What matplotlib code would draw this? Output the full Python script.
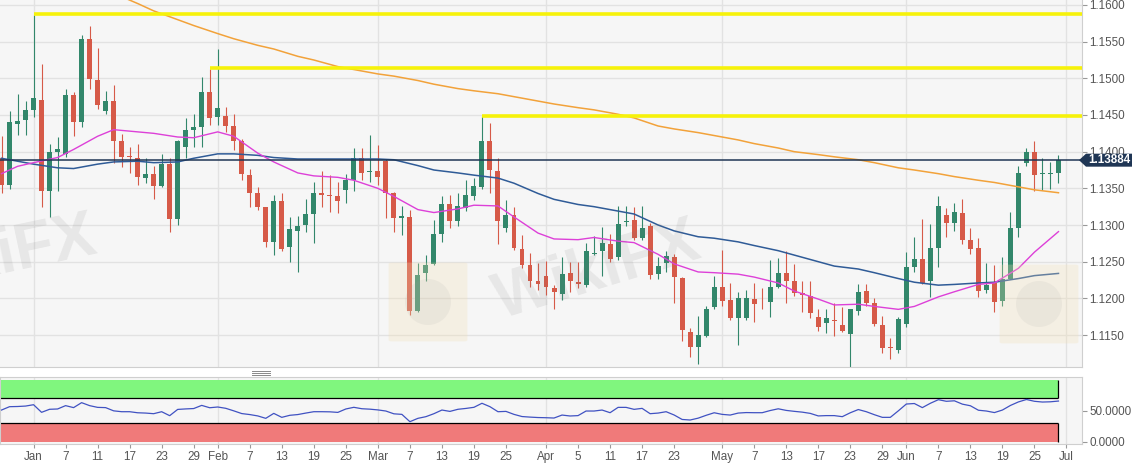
import matplotlib
matplotlib.use("Agg")
import matplotlib.pyplot as plt
from matplotlib.patches import Polygon, FancyBboxPatch, Ellipse
from matplotlib.lines import Line2D
import numpy as np
import pandas as pd

plt.rcParams['font.family'] = ['Liberation Sans', 'DejaVu Sans']

# daily EUR/USD bars, 26 Dec 2018 .. 28 Jun 2019
dates = pd.bdate_range('2018-12-26', '2019-06-28')

opens = [1.1392, 1.1355, 1.1438, 1.1443, 1.1457, 1.1471, 1.1346, 1.1399, 1.1397, 1.1477,
         1.1441, 1.1554, 1.1498, 1.1455, 1.1469, 1.1414, 1.1394, 1.1391, 1.1364, 1.1369,
         1.1353, 1.1383, 1.1308, 1.1406, 1.1429, 1.1433, 1.1481, 1.1447, 1.1449, 1.1435,
         1.1414, 1.1368, 1.1343, 1.1324, 1.1277, 1.1333, 1.1270, 1.1292, 1.1300, 1.1315,
         1.1343, 1.1340, 1.1339, 1.1348, 1.1362, 1.1392, 1.1372, 1.1374, 1.1387, 1.1343,
         1.1309, 1.1311, 1.1183, 1.1235, 1.1247, 1.1288, 1.1329, 1.1305, 1.1323, 1.1339,
         1.1352, 1.1414, 1.1374, 1.1296, 1.1314, 1.1267, 1.1246, 1.1224, 1.1231, 1.1214,
         1.1206, 1.1235, 1.1222, 1.1218, 1.1261, 1.1265, 1.1274, 1.1256, 1.1304, 1.1307,
         1.1282, 1.1299, 1.1233, 1.1248, 1.1257, 1.1228, 1.1154, 1.1133, 1.1148, 1.1188,
         1.1215, 1.1198, 1.1173, 1.1173, 1.1199, 1.1194, 1.1195, 1.1215, 1.1235, 1.1224,
         1.1207, 1.1203, 1.1175, 1.1167, 1.1171, 1.1163, 1.1152, 1.1183, 1.1210, 1.1193,
         1.1163, 1.1134, 1.1130, 1.1165, 1.1243, 1.1253, 1.1223, 1.1268, 1.1314, 1.1303,
         1.1317, 1.1279, 1.1268, 1.1212, 1.1221, 1.1196, 1.1227, 1.1296, 1.1385, 1.1399,
         1.1370, 1.1369, 1.1371]
highs = [1.1421, 1.1455, 1.1478, 1.1469, 1.1586, 1.1519, 1.1411, 1.1420, 1.1485, 1.1481,
         1.1559, 1.1571, 1.1541, 1.1483, 1.1491, 1.1424, 1.1407, 1.1411, 1.1392, 1.1381,
         1.1397, 1.1391, 1.1416, 1.1446, 1.1452, 1.1502, 1.1513, 1.1540, 1.1461, 1.1452,
         1.1417, 1.1377, 1.1352, 1.1325, 1.1341, 1.1344, 1.1311, 1.1312, 1.1336, 1.1359,
         1.1373, 1.1368, 1.1359, 1.1369, 1.1405, 1.1405, 1.1423, 1.1409, 1.1390, 1.1345,
         1.1326, 1.1321, 1.1248, 1.1259, 1.1307, 1.1340, 1.1341, 1.1344, 1.1361, 1.1364,
         1.1448, 1.1439, 1.1391, 1.1334, 1.1325, 1.1286, 1.1262, 1.1248, 1.1251, 1.1218,
         1.1256, 1.1250, 1.1250, 1.1276, 1.1285, 1.1297, 1.1288, 1.1326, 1.1326, 1.1324,
         1.1326, 1.1303, 1.1257, 1.1265, 1.1261, 1.1229, 1.1159, 1.1176, 1.1189, 1.1230,
         1.1266, 1.1221, 1.1208, 1.1211, 1.1221, 1.1214, 1.1252, 1.1255, 1.1265, 1.1247,
         1.1224, 1.1224, 1.1186, 1.1185, 1.1193, 1.1188, 1.1186, 1.1220, 1.1220, 1.1200,
         1.1176, 1.1146, 1.1174, 1.1263, 1.1283, 1.1308, 1.1301, 1.1340, 1.1323, 1.1330,
         1.1335, 1.1296, 1.1282, 1.1248, 1.1246, 1.1256, 1.1318, 1.1380, 1.1405, 1.1415,
         1.1392, 1.1386, 1.1395]
lows = [1.1344, 1.1349, 1.1423, 1.1423, 1.1447, 1.1325, 1.1311, 1.1346, 1.1393, 1.1421,
        1.1434, 1.1485, 1.1458, 1.1451, 1.1384, 1.1379, 1.1371, 1.1355, 1.1357, 1.1336,
        1.1352, 1.1291, 1.1300, 1.1391, 1.1407, 1.1407, 1.1436, 1.1437, 1.1427, 1.1402,
        1.1362, 1.1324, 1.1321, 1.1270, 1.1259, 1.1265, 1.1250, 1.1236, 1.1290, 1.1276,
        1.1325, 1.1318, 1.1317, 1.1330, 1.1346, 1.1361, 1.1359, 1.1355, 1.1309, 1.1291,
        1.1286, 1.1177, 1.1182, 1.1223, 1.1245, 1.1277, 1.1296, 1.1299, 1.1319, 1.1334,
        1.1349, 1.1343, 1.1274, 1.1290, 1.1266, 1.1241, 1.1215, 1.1211, 1.1205, 1.1186,
        1.1198, 1.1209, 1.1214, 1.1216, 1.1259, 1.1230, 1.1250, 1.1252, 1.1299, 1.1280,
        1.1280, 1.1227, 1.1226, 1.1236, 1.1193, 1.1142, 1.1120, 1.1111, 1.1147, 1.1186,
        1.1189, 1.1171, 1.1136, 1.1171, 1.1168, 1.1186, 1.1175, 1.1214, 1.1194, 1.1203,
        1.1181, 1.1173, 1.1156, 1.1153, 1.1148, 1.1154, 1.1107, 1.1177, 1.1190, 1.1162,
        1.1126, 1.1117, 1.1126, 1.1161, 1.1236, 1.1220, 1.1202, 1.1243, 1.1283, 1.1292,
        1.1274, 1.1261, 1.1202, 1.1207, 1.1182, 1.1189, 1.1226, 1.1283, 1.1380, 1.1346,
        1.1348, 1.1349, 1.1357]
closes = [1.1355, 1.1440, 1.1442, 1.1457, 1.1473, 1.1346, 1.1399, 1.1403, 1.1477, 1.1441,
          1.1554, 1.1499, 1.1464, 1.1469, 1.1414, 1.1393, 1.1393, 1.1366, 1.1369, 1.1353,
          1.1383, 1.1308, 1.1415, 1.1429, 1.1433, 1.1481, 1.1446, 1.1459, 1.1435, 1.1414,
          1.1370, 1.1343, 1.1324, 1.1277, 1.1333, 1.1267, 1.1294, 1.1299, 1.1315, 1.1343,
          1.1341, 1.1339, 1.1333, 1.1361, 1.1392, 1.1371, 1.1374, 1.1365, 1.1343, 1.1309,
          1.1312, 1.1183, 1.1232, 1.1245, 1.1288, 1.1329, 1.1305, 1.1326, 1.1341, 1.1353,
          1.1415, 1.1375, 1.1306, 1.1314, 1.1268, 1.1245, 1.1224, 1.1220, 1.1215, 1.1209,
          1.1233, 1.1224, 1.1219, 1.1265, 1.1262, 1.1276, 1.1254, 1.1301, 1.1305, 1.1282,
          1.1296, 1.1232, 1.1244, 1.1258, 1.1229, 1.1157, 1.1134, 1.1150, 1.1186, 1.1215,
          1.1196, 1.1173, 1.1201, 1.1201, 1.1192, 1.1193, 1.1216, 1.1235, 1.1223, 1.1207,
          1.1205, 1.1180, 1.1161, 1.1173, 1.1169, 1.1156, 1.1185, 1.1208, 1.1194, 1.1165,
          1.1132, 1.1132, 1.1172, 1.1243, 1.1253, 1.1221, 1.1268, 1.1326, 1.1303, 1.1318,
          1.1279, 1.1267, 1.1210, 1.1218, 1.1195, 1.1226, 1.1296, 1.1371, 1.1399, 1.1368,
          1.1371, 1.1370, 1.1388]

# moving averages, read twice a week
ma_dates = ['2018-12-26', '2018-12-28', '2019-01-01', '2019-01-04', '2019-01-08', '2019-01-11',
            '2019-01-15', '2019-01-18', '2019-01-22', '2019-01-25', '2019-01-29', '2019-02-01',
            '2019-02-05', '2019-02-08', '2019-02-12', '2019-02-15', '2019-02-19', '2019-02-22',
            '2019-02-26', '2019-03-01', '2019-03-05', '2019-03-08', '2019-03-12', '2019-03-15',
            '2019-03-19', '2019-03-22', '2019-03-26', '2019-03-29', '2019-04-02', '2019-04-05',
            '2019-04-09', '2019-04-12', '2019-04-16', '2019-04-19', '2019-04-23', '2019-04-26',
            '2019-04-30', '2019-05-03', '2019-05-07', '2019-05-10', '2019-05-14', '2019-05-17',
            '2019-05-21', '2019-05-24', '2019-05-28', '2019-05-31', '2019-06-04', '2019-06-07',
            '2019-06-11', '2019-06-14', '2019-06-18', '2019-06-21', '2019-06-25', '2019-06-28']
ma_fast = [1.1370, 1.1380, 1.1385, 1.1392, 1.1403, 1.1421, 1.1430, 1.1427, 1.1425, 1.1420,
           1.1419, 1.1427, 1.1421, 1.1398, 1.1386, 1.1371, 1.1367, 1.1365, 1.1361, 1.1350,
           1.1339, 1.1321, 1.1317, 1.1322, 1.1327, 1.1326, 1.1311, 1.1289, 1.1281, 1.1280,
           1.1283, 1.1278, 1.1276, 1.1260, 1.1247, 1.1236, 1.1235, 1.1233, 1.1229, 1.1221,
           1.1210, 1.1199, 1.1191, 1.1192, 1.1189, 1.1185, 1.1189, 1.1202, 1.1209, 1.1219,
           1.1221, 1.1241, 1.1263, 1.1291]
ma_mid = [1.1391, 1.1387, 1.1383, 1.1378, 1.1377, 1.1383, 1.1386, 1.1387, 1.1385, 1.1386,
          1.1391, 1.1397, 1.1397, 1.1395, 1.1392, 1.1390, 1.1390, 1.1390, 1.1390, 1.1390,
          1.1389, 1.1381, 1.1375, 1.1371, 1.1368, 1.1364, 1.1357, 1.1343, 1.1335, 1.1328,
          1.1325, 1.1319, 1.1315, 1.1300, 1.1292, 1.1284, 1.1282, 1.1277, 1.1272, 1.1265,
          1.1259, 1.1250, 1.1244, 1.1240, 1.1235, 1.1227, 1.1222, 1.1218, 1.1219, 1.1221,
          1.1222, 1.1227, 1.1231, 1.1234]
ma_slow = [None, None, None, None, None, 1.1625,
           1.1616, 1.1602, 1.1592, 1.1580, 1.1572, 1.1561, 1.1554, 1.1545, 1.1540, 1.1530,
           1.1525, 1.1516, 1.1512, 1.1506, 1.1503, 1.1497, 1.1492, 1.1486, 1.1483, 1.1479,
           1.1475, 1.1469, 1.1465, 1.1460, 1.1457, 1.1451, 1.1446, 1.1435, 1.1431, 1.1426,
           1.1422, 1.1416, 1.1411, 1.1405, 1.1400, 1.1396, 1.1393, 1.1389, 1.1385, 1.1378,
           1.1375, 1.1370, 1.1366, 1.1361, 1.1358, 1.1352, 1.1348, 1.1344]

# RSI, one value per bar
rsi = [51.1, 56.5, 56.8, 57.5, 59.7, 47.4, 52.3, 52.8, 58.2, 55.0,
       63.0, 58.2, 55.4, 55.0, 49.8, 48.4, 48.4, 46.7, 46.2, 45.2,
       48.4, 42.0, 52.1, 52.9, 53.5, 58.6, 54.8, 56.0, 53.9, 49.8,
       45.4, 43.8, 41.6, 37.7, 45.7, 39.3, 42.6, 43.8, 46.2, 48.4,
       48.4, 48.2, 47.3, 52.8, 55.5, 53.2, 52.5, 51.3, 49.5, 45.0,
       44.1, 32.3, 37.7, 40.4, 45.2, 51.1, 48.9, 52.3, 53.7, 55.5,
       62.0, 56.5, 48.4, 48.9, 44.1, 40.6, 39.7, 39.0, 38.7, 38.2,
       43.0, 41.5, 42.1, 49.5, 49.5, 51.1, 46.8, 55.4, 55.4, 52.2,
       53.8, 45.2, 46.2, 48.4, 43.1, 35.9, 35.0, 38.0, 42.6, 46.7,
       44.1, 43.0, 46.2, 47.0, 46.8, 46.8, 50.3, 53.1, 50.5, 49.0,
       47.7, 45.7, 41.6, 42.1, 42.1, 40.4, 46.7, 51.9, 48.4, 43.6,
       39.3, 39.3, 49.8, 60.8, 61.6, 55.0, 62.0, 67.8, 65.2, 66.0,
       60.6, 58.0, 50.8, 49.5, 47.0, 51.1, 58.5, 64.2, 68.1, 65.2,
       64.0, 64.4, 65.6]

res_levels = [1.1588, 1.1514, 1.1448]
res_start = ['2019-01-01', '2019-01-31', '2019-03-20']
last_price = 1.13884

tick_dates = ['2019-01-01', '2019-01-07', '2019-01-11', '2019-01-17', '2019-01-23', '2019-01-29',
              '2019-02-01', '2019-02-07', '2019-02-13', '2019-02-19', '2019-02-25',
              '2019-03-01', '2019-03-07', '2019-03-13', '2019-03-19', '2019-03-25',
              '2019-04-01', '2019-04-05', '2019-04-11', '2019-04-17', '2019-04-23',
              '2019-05-01', '2019-05-07', '2019-05-13', '2019-05-17', '2019-05-23', '2019-05-29',
              '2019-06-03', '2019-06-07', '2019-06-13', '2019-06-19', '2019-06-25', '2019-07-01']
tick_labels = ['Jan', '7', '11', '17', '23', '29', 'Feb', '7', '13', '19', '25',
               'Mar', '7', '13', '19', '25', 'Apr', '5', '11', '17', '23',
               'May', '7', '13', '17', '23', '29', 'Jun', '7', '13', '19', '25', 'Jul']

GREEN = '#32876b'
RED = '#d65a48'
BG = '#f6f6f6'
GRID = '#e2e2e2'
NAVY = '#1f3655'
TXT = '#555555'

# bar positions (weekdays only, like the original)
axis_days = pd.bdate_range('2018-12-26', '2019-07-01')
def pos(d):
    return axis_days.get_loc(pd.Timestamp(d))

W, H = 1139, 465
fig = plt.figure(figsize=(W / 100, H / 100), dpi=100)
ax = fig.add_axes([0, 1 - 367 / H, 1081.7 / W, 367 / H])
ax2 = fig.add_axes([0, 1 - 444 / H, 1081.7 / W, 67 / H])

x = np.arange(len(dates))
o = np.array(opens); c = np.array(closes)
colors = np.where(c >= o, GREEN, RED)
xlim = (-0.19, 134.9)

month_pos = [pos(d) for d, l in zip(tick_dates, tick_labels) if not l.isdigit()]
for a in (ax, ax2):
    a.set_facecolor(BG)
    a.set_xlim(*xlim)
    for s in a.spines.values():
        s.set_color('#cfcfcf')
        s.set_linewidth(0.8)
    for mp in month_pos:
        a.axvline(mp, color=GRID, lw=1, zorder=0)
ax.spines['left'].set_visible(False)
ax.spines['top'].set_visible(False)

# candles
ax.vlines(x, lows, highs, colors=colors, lw=0.8, zorder=2)
ax.bar(x, np.maximum(np.abs(c - o), 0.00013), bottom=np.minimum(o, c), width=0.62,
       color=colors, linewidth=0, zorder=3)

# moving averages
mx = [pos(d) for d in ma_dates]
slow = np.array([np.nan if v is None else v for v in ma_slow])
ax.plot(mx, slow, color='#f2a23a', lw=1.1, zorder=4)
ax.plot(mx, ma_mid, color='#2f5b97', lw=1.1, zorder=4)
ax.plot(mx, ma_fast, color='#dd40d8', lw=1.0, zorder=4)

# last price line
ax.axhline(last_price, color=NAVY, lw=1.1, zorder=5)

# resistance lines
for lvl, d in zip(res_levels, res_start):
    ax.hlines(lvl, pos(d), xlim[1], color='#f6f20a', lw=2.6, zorder=6)

ax.set_ylim(1.11064, 1.16068)
yt = np.arange(1.1150, 1.16001, 0.005)
ax.set_yticks(yt)
ax.set_yticklabels([f'{v:.4f}' for v in yt])
ax.yaxis.tick_right()
ax.tick_params(axis='y', length=3.6, width=0.8, color='#999999', labelsize=8.4,
               labelcolor=TXT, pad=2)
ax.set_xticks([])
for v in yt:
    ax.axhline(v, color=GRID, lw=1, zorder=0)

# price tag
_, ytag = fig.transFigure.inverted().transform(ax.transData.transform((0, last_price)))
hh = 6.5 / H
tag = Polygon([(1079 / W, ytag), (1086 / W, ytag + hh), (1132 / W, ytag + hh),
               (1132 / W, ytag - hh), (1086 / W, ytag - hh)], closed=True,
              transform=fig.transFigure, fc=NAVY, ec='none', zorder=20)
fig.patches.append(tag)
fig.text(1109 / W, ytag, f'{last_price:.5f}', ha='center', va='center', color='white',
         fontsize=8.4, fontweight='bold', zorder=21)

# RSI panel
last = x[-1]
ax2.fill_between([xlim[0], last], 70, 100, color='#80f67e', lw=0, zorder=1)
ax2.fill_between([xlim[0], last], 0, 30, color='#f07a7a', lw=0, zorder=1)
ax2.hlines([70, 30], xlim[0], last, color='black', lw=0.9, zorder=2)
ax2.vlines(last, 70, 100, color='black', lw=0.9, zorder=2)
ax2.vlines(last, 0, 30, color='black', lw=0.9, zorder=2)
ax2.plot(x, rsi, color='#4052c2', lw=0.9, zorder=3)
ax2.set_ylim(-3.7, 104.4)
ax2.set_yticks([0, 50])
ax2.set_yticklabels(['0.0000', '50.0000'])
ax2.yaxis.tick_right()
ax2.tick_params(axis='y', length=3.6, width=0.8, color='#999999', labelsize=8.4,
                labelcolor=TXT, pad=2)
ax2.set_xticks([pos(d) for d in tick_dates])
ax2.set_xticklabels(tick_labels)
ax2.tick_params(axis='x', length=3, width=0.8, color='#999999', labelsize=8.4,
                labelcolor=TXT, pad=2)

# splitter handle between panels
for yy in (371, 373, 375):
    fig.add_artist(Line2D([252 / W, 270 / W], [1 - yy / H] * 2, color='#888888', lw=0.7))

# faint watermark
fig.text(598 / W, 1 - 272 / H, 'WikiFX', fontsize=46, fontweight='bold', color='#777777',
         alpha=0.12, rotation=17, ha='center', va='center', zorder=15)
fig.text(-8 / W, 1 - 258 / H, 'WikiFX', fontsize=46, fontweight='bold', color='#777777',
         alpha=0.12, rotation=12, ha='center', va='center', zorder=15)
for (lx, ly) in [(392, 264), (1003, 266)]:
    fig.patches.append(FancyBboxPatch((lx / W, 1 - (ly + 76) / H), 72 / W, 76 / H,
                                      boxstyle='round,pad=0.003', transform=fig.transFigure,
                                      fc='#f2dfb2', ec='none', alpha=0.28, zorder=15))
    fig.patches.append(Ellipse(((lx + 36) / W, 1 - (ly + 38) / H), 46 / W, 46 / H,
                               transform=fig.transFigure, fc='#999999', ec='none',
                               alpha=0.10, zorder=16))

fig.savefig('out.png', dpi=100)
